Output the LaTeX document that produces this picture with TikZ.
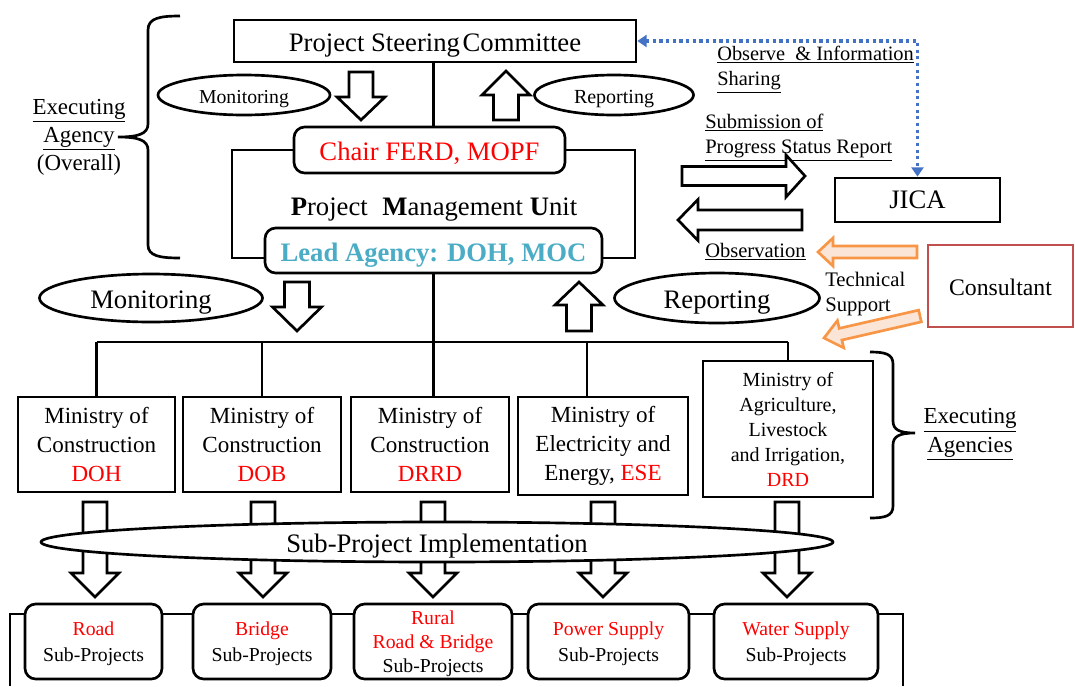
\documentclass[tikz,border=0pt]{standalone}
\usepackage{fontspec}
\setmainfont{Liberation Serif}
\usetikzlibrary{shapes.geometric,arrows.meta}

\definecolor{redtxt}{HTML}{FF0000}
\definecolor{leadblue}{HTML}{4BACC6}
\definecolor{jicablue}{HTML}{4472C4}
\definecolor{orangeline}{HTML}{F79646}
\definecolor{orangefill}{HTML}{FBE5D6}
\definecolor{consred}{HTML}{C0504D}

\newcommand{\fs}[2]{\fontsize{#1}{#2}\selectfont}
% lengths are given in drawing units (1 unit = 0.75pt)
\def\PX{*0.75pt}

% hollow block arrow, vertical: x, base y, head-base y, tip y, body half width, head half width
\newcommand{\BlockV}[7][blockarrow]{%
  \draw[#1] ({#2-#6},#3) -- ({#2+#6},#3) -- ({#2+#6},#4) -- ({#2+#7},#4) -- (#2,#5)
    -- ({#2-#7},#4) -- ({#2-#6},#4) -- cycle;}
% hollow block arrow, horizontal: y, base x, head-base x, tip x, body half height, head half height
\newcommand{\BlockH}[7][blockarrow]{%
  \draw[#1] (#3,{#2-#6}) -- (#4,{#2-#6}) -- (#4,{#2-#7}) -- (#5,#2) -- (#4,{#2+#7})
    -- (#4,{#2+#6}) -- (#3,{#2+#6}) -- cycle;}

\begin{document}
\begin{tikzpicture}[x=0.75pt,y=-0.75pt,
  box/.style={draw, line width=2pt, fill=white, inner sep=0pt, align=center},
  rbox/.style={box, rounded corners=8pt},
  oval/.style={ellipse, draw, line width=2pt, fill=white, inner sep=0pt},
  conn/.style={line width=2.2pt},
  blockarrow/.style={draw, line width=2pt, fill=white, line join=miter},
  orangearrow/.style={draw=orangeline, fill=orangefill, line width=2pt, line join=miter},
  brace/.style={line width=2pt},
  lbl/.style={inner sep=0pt, align=center},
  capc/.style={text height=#1, text depth=0pt},
  obs/.style={draw=jicablue, line width=2.4pt, dash pattern=on 2.4pt off 2.6pt,
    {Triangle[width=9pt,length=7pt]}-{Triangle[width=9pt,length=7pt]}},
]
\useasboundingbox (0,0) rectangle (1075,686);
\fill[white] (0,0) rectangle (1075,686);

% ---------- steering level ----------
\node[box, capc=16pt, minimum width=402\PX, minimum height=42\PX, font=\fs{20}{24}] (psc) at (435,41)
  {Project Steering\hspace{0.1em}Committee};

\node[oval, capc=12pt, minimum width=172\PX, minimum height=40\PX, font=\fs{14.8}{18}] (mon1) at (244,95) {Monitoring};
\node[oval, capc=12pt, minimum width=159\PX, minimum height=40\PX, font=\fs{15}{18}] (rep1) at (614,95) {Reporting};

\BlockV{361}{72}{97}{120}{12}{24}
\BlockV{506}{120}{95}{71}{12.5}{24}

% ---------- project management unit ----------
\node[rbox, capc=15pt, minimum width=271\PX, minimum height=46\PX, font=\fs{20}{24}, text=redtxt] (chair) at (429.5,150)
  {Chair FERD, MOPF};
\node[lbl, capc=16pt, font=\fs{20}{24}] (pmu) at (434,205)
  {\textbf{P}roject\hspace{0.55em}\textbf{M}anagement \textbf{U}nit};
\node[rbox, capc=16pt, minimum width=337\PX, minimum height=45\PX, font=\bfseries\fs{20}{24}, text=leadblue] (lead) at (433.5,250.5)
  {Lead Agency: DOH, MOC};

\draw[conn] (psc.south -| lead.south) -- (chair.north -| lead.south);
\draw[conn] (chair.west) -- (232,150) -- (232,258) -- (lead.west |- 0,258);
\draw[conn] (chair.east) -- (635,150) -- (635,258) -- (lead.east |- 0,258);

% executing agency (overall) brace
\draw[brace] (180,16) .. controls (160,16) and (148,18) .. (148,30) -- (148,124)
  .. controls (148,134) and (138,137) .. (118,137)
  .. controls (138,137) and (148,140) .. (148,150) -- (148,245)
  .. controls (148,256) and (160,258) .. (180,258);
\node[lbl, font=\fs{17.2}{21}] (execL) at (79,137)
  {\underline{Executing}\\\underline{Agency}\\(Overall)};

% ---------- monitoring / reporting to ministries ----------
\node[oval, capc=16pt, minimum width=223\PX, minimum height=48\PX, font=\fs{20}{24}] (mon2) at (151,298) {Monitoring};
\node[oval, capc=16pt, minimum width=205\PX, minimum height=50\PX, font=\fs{20}{24}] (rep2) at (717,298) {Reporting};
\BlockV{297}{282}{307}{331}{12.5}{24.5}
\BlockV{579}{331}{305}{282}{12.5}{24}

% ---------- ministries ----------
\node[box, minimum width=157\PX, minimum height=95\PX, font=\fs{17.3}{21.75}] (m1) at (96.5,444.5)
  {Ministry of\\Construction\\\textcolor{redtxt}{DOH}};
\node[box, minimum width=158\PX, minimum height=95\PX, font=\fs{17.3}{21.75}] (m2) at (262,444.5)
  {Ministry of\\Construction\\\textcolor{redtxt}{DOB}};
\node[box, minimum width=158\PX, minimum height=95\PX, font=\fs{17.3}{21.75}] (m3) at (430,444.5)
  {Ministry of\\Construction\\\textcolor{redtxt}{DRRD}};
\node[box, minimum width=170\PX, minimum height=98\PX, font=\fs{17.3}{21.75}] (m4) at (603,446)
  {Ministry of\\Electricity and\\Energy, \textcolor{redtxt}{ESE}};
\node[box, minimum width=170\PX, minimum height=136\PX, font=\fs{15}{18.75}] (m5) at (788,429)
  {Ministry of\\Agriculture,\\Livestock\\and Irrigation,\\\textcolor{redtxt}{DRD}};

\coordinate (bus) at (0,342);
\coordinate (d4) at (587,342);
\draw[conn] (lead.south) -- (m3.north -| lead.south);
\draw[conn] (m1.north |- bus) -- (m5.north |- bus);
\draw[conn] (m1.north |- bus) -- (m1.north);
\draw[conn] (m2.north |- bus) -- (m2.north);
\draw[conn] (d4) -- (d4 |- m4.north);
\draw[conn] (m5.north |- bus) -- (m5.north);

% executing agencies brace
\draw[brace] (870,352) .. controls (885,352) and (893,354) .. (893,364) -- (893,421)
  .. controls (893,430) and (900,433) .. (915,433)
  .. controls (900,433) and (893,436) .. (893,445) -- (893,506)
  .. controls (893,516) and (885,518) .. (870,518);
\node[lbl, font=\fs{17.2}{21.5}] (execR) at (970,434.5)
  {\underline{Executing}\\\underline{Agencies}};

% ---------- sub-project implementation ----------
\BlockV{95}{502}{573}{597}{12}{24}
\BlockV{263}{502}{573}{597}{12}{24}
\BlockV{433}{502}{573}{597}{12}{24}
\BlockV{603}{502}{573}{597}{12}{24}
\BlockV{787}{502}{573}{597}{12}{24}
\node[oval, capc=16pt, minimum width=792\PX, minimum height=40\PX, font=\fs{20}{24}] (impl) at (437,542)
  {Sub-Project Implementation};

\coordinate (frameL) at (10,686);
\coordinate (frameR) at (903,686);
\draw[conn] (frameL) -- ++(0,-72) -| (frameR);

\node[rbox, text depth=-3.4pt, minimum width=137\PX, minimum height=75\PX, font=\fs{14.8}{19.5}] (s1) at (93.5,641.5)
  {\textcolor{redtxt}{Road}\\Sub-Projects};
\node[rbox, text depth=-3.4pt, minimum width=138\PX, minimum height=75\PX, font=\fs{14.8}{19.5}] (s2) at (262,641.5)
  {\textcolor{redtxt}{Bridge}\\Sub-Projects};
\node[rbox, text depth=-1.3pt, minimum width=158\PX, minimum height=75\PX, font=\fs{14.8}{18}] (s3) at (433,641.5)
  {\textcolor{redtxt}{Rural}\\\textcolor{redtxt}{Road \& Bridge}\\Sub-Projects};
\node[rbox, text depth=-3.4pt, minimum width=161\PX, minimum height=75\PX, font=\fs{14.8}{19.5}] (s4) at (608.5,641.5)
  {\textcolor{redtxt}{Power Supply}\\Sub-Projects};
\node[rbox, text depth=-3.4pt, minimum width=164\PX, minimum height=75\PX, font=\fs{14.8}{19.5}] (s5) at (796,641.5)
  {\textcolor{redtxt}{Water Supply}\\Sub-Projects};

% ---------- JICA and consultant ----------
\node[box, minimum width=165\PX, minimum height=44\PX, font=\fs{20}{24}] (jica) at (917.5,200) {JICA};
\node[box, capc=14pt, draw=consred, line width=1.6pt, minimum width=145\PX, minimum height=82\PX, font=\fs{17.8}{21}] (cons) at (1000.5,286)
  {Consultant};

\draw[obs] (psc.east) -| (jica.north);

\node[lbl, anchor=west, align=left, font=\fs{15.3}{18.75}] (obsinfo) at (717,69.5)
  {\underline{Observe \ \& Information}\\\underline{Sharing}};
\node[lbl, anchor=west, align=left, font=\fs{15.4}{18.75}] (submit) at (705,137.5)
  {\underline{Submission of}\\\underline{Progress Status Report}};
\node[lbl, anchor=west, font=\fs{15.4}{18.75}] (observ) at (705,252) {\underline{Observation}};
\node[lbl, anchor=west, align=left, font=\fs{15.5}{19}] (tech) at (825,294)
  {Technical\\Support};

\BlockH{176}{682}{786}{805}{9.5}{21}
\BlockH{220}{802}{698}{678}{10}{20.5}
\BlockH[orangearrow]{252}{917}{833}{818}{6}{14}
\draw[orangearrow] (918.66,310.15) -- (839.23,328.35) -- (837.44,320.55) -- (824,338)
  -- (843.70,347.85) -- (841.91,340.05) -- (921.34,321.85) -- cycle;
\end{tikzpicture}
\end{document}
